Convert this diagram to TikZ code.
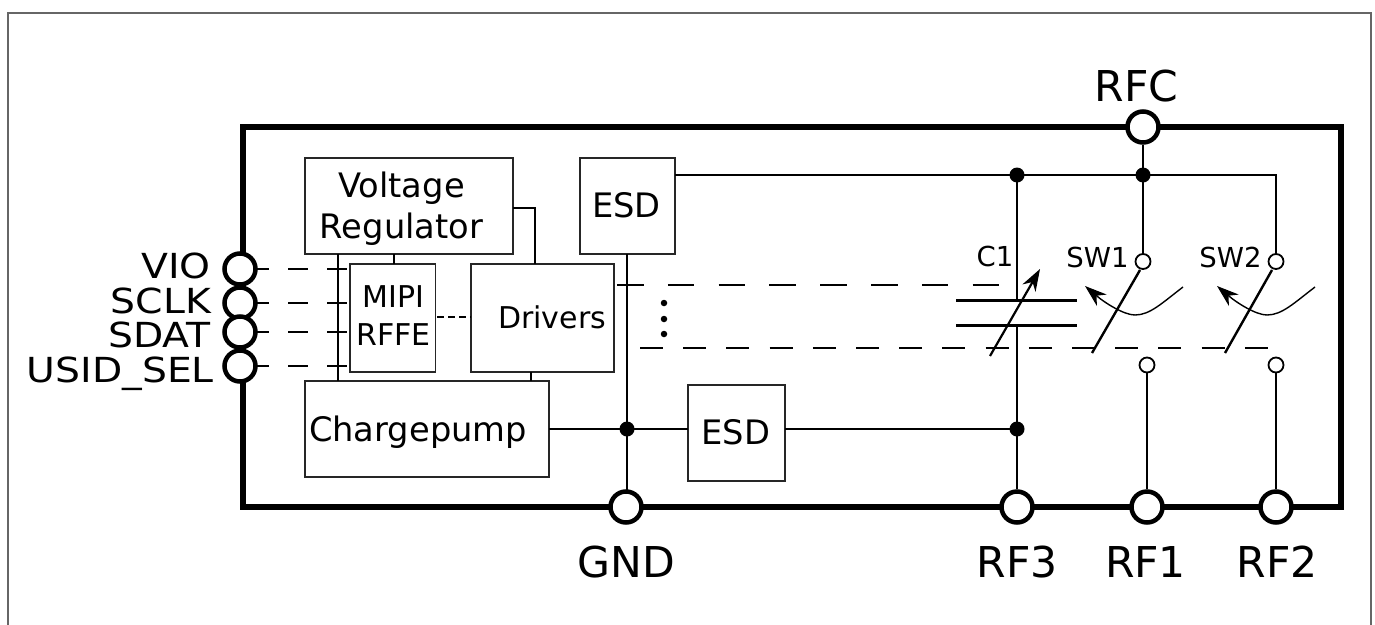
\documentclass[tikz,border=0pt]{standalone}
\usepackage{fontspec}
\setmainfont{DejaVu Sans}
\newfontfamily\widefont[FakeStretch=1.14]{DejaVu Sans}
\usetikzlibrary{arrows.meta}
\tikzset{
  blockbox/.style={draw=black!85,line width=1.4pt,fill=white,inner sep=0pt},
  wire/.style={line width=1.8pt,draw=black},
  thick wire/.style={line width=2.6pt,draw=black},
  pin/.style={circle,draw=black,line width=4.5pt,fill=white,minimum size=31pt,inner sep=0pt},
  tinypin/.style={circle,draw=black,line width=1.8pt,fill=white,minimum size=15pt,inner sep=0pt},
  junction/.style={circle,fill=black,minimum size=15pt,inner sep=0pt},
  dotty/.style={circle,fill=black,minimum size=6.5pt,inner sep=0pt},
  sidelabel/.style={font=\widefont\fontsize{34.5}{34.5}\selectfont,inner sep=0pt},
  biglabel/.style={font=\fontsize{42.5}{42.5}\selectfont,inner sep=0pt},
  midlabel/.style={font=\fontsize{33.7}{41}\selectfont,inner sep=0pt,align=center},
  smalllabel/.style={font=\fontsize{30}{38}\selectfont,inner sep=0pt,align=center},
  tinylabel/.style={font=\fontsize{27.5}{27.5}\selectfont,inner sep=0pt},
  ctrlA/.style={line width=1.8pt,dash pattern=on 20pt off 19pt,dash phase=8pt},
  ctrlB/.style={line width=2pt,dash pattern=on 26.6pt off 24.2pt},
  ctrlC/.style={line width=2pt,dash pattern=on 23pt off 20.2pt},
  head/.style={-{Stealth[length=22pt,width=15pt,inset=7pt]}},
}
\begin{document}
\begin{tikzpicture}[x=1pt,y=-1pt]
\useasboundingbox (0,0) rectangle (1375,624);
\draw[black!60,line width=2pt] (7.5,12.5) rectangle (1370.5,640);
% package outline
\draw[line width=6pt,line join=miter] (243,127) rectangle (1341,507);

% blocks
\node[blockbox,minimum width=208pt,minimum height=96pt] (vr) at (409,206) {};
\node[blockbox,minimum width=85.5pt,minimum height=108pt] (mipi) at (392.75,318) {};
\node[blockbox,minimum width=143pt,minimum height=108pt] (drv) at (542.5,318) {};
\node[blockbox,minimum width=244pt,minimum height=96pt] (cp) at (427,429) {};
\node[blockbox,minimum width=95pt,minimum height=96pt] (esda) at (627.5,206) {};
\node[blockbox,minimum width=97pt,minimum height=96pt] (esdb) at (736.5,433) {};

% pins
\node[pin] (rfc) at (1143,127) {};
\node[pin] (gnd) at (626,507) {};
\node[pin] (rfiii) at (1017,507) {};
\node[pin] (rfi) at (1147,507) {};
\node[pin] (rfii) at (1276,507) {};
\node[pin] (vio) at (240,269) {};
\node[pin] (sclk) at (240,303) {};
\node[pin] (sdat) at (240,332) {};
\node[pin] (usid) at (240,366) {};

% junctions and contacts
\coordinate (jg) at (627,429);
\coordinate (jb) at (1017,429);
\coordinate (jt) at (1017,175);
\coordinate (jr) at (1143,175);
\coordinate (cor) at (1276,175);
\node[tinypin] (swat) at (1143,261.5) {};
\node[tinypin] (swbt) at (1276,261.5) {};
\node[tinypin] (swab) at (1147,365) {};
\node[tinypin] (swbb) at (1276,365) {};

% power wiring
\draw[wire] (338,254) -- (338,381);
\draw[wire] (394,254) -- (394,264);
\draw[wire] (513,208) -- (535,208) -- (535,264);
\draw[wire] (531,372) -- (531,381);
\draw[wire] (627,254) -- (jg) -- (627,491);
\draw[thick wire] (549,429) -- (jg) -- (688,429);
\draw[thick wire] (785,429) -- (jb);
\draw[thick wire] (675,175) -- (jr) -- (cor) -- (swbt.north);
\draw[wire] (rfc.south) -- (jr) -- (swat.north);
\draw[wire] (jt) -- (1017,300);
\draw[wire] (1017,325) -- (jb) -- (rfiii.north);
\draw[thick wire] (swab.south) -- (rfi.north);
\draw[thick wire] (swbb.south) -- (rfii.north);
\node[junction] at (jg) {};
\node[junction] at (jb) {};
\node[junction] at (jt) {};
\node[junction] at (jr) {};

% control lines
\coordinate (a1) at (350,269);
\coordinate (a2) at (350,303);
\coordinate (a3) at (350,332);
\coordinate (a4) at (350,366);
\draw[ctrlA] (257,269) -- (a1);
\draw[ctrlA] (257,303) -- (a2);
\draw[ctrlA] (257,332) -- (a3);
\draw[ctrlA] (257,366) -- (a4);
\draw[line width=1.6pt,dash pattern=on 7pt off 4pt] (437,317) -- (471,317);
\coordinate (cta) at (617,285);
\coordinate (ctb) at (1000,285);
\coordinate (cba) at (640,348);
\coordinate (cbb) at (1268,348);
\draw[ctrlB] (cta) -- (ctb);
\draw[ctrlC] (cba) -- (cbb);
\node[dotty] at (664,303) {};
\node[dotty] at (664,319) {};
\node[dotty] at (664,334) {};

% capacitor
\draw[line width=3pt] (956,300) -- (1077,300);
\draw[line width=3pt] (956,325) -- (1077,325);
\draw[line width=2.2pt,head] (990,356) -- (1040,269);

% switches
\draw[line width=2.4pt] (1140,270) -- (1092,353);
\draw[line width=2.4pt] (1272,270) -- (1225,353);
\draw[line width=1.4pt,head] (1183,287) .. controls (1162,303) and (1150,315) .. (1135,315) .. controls (1124,315) and (1105,303) .. (1085,286);
\draw[line width=1.4pt,head] (1315,287) .. controls (1294,303) and (1282,315) .. (1267,315) .. controls (1256,315) and (1237,303) .. (1217,286);

% labels
\node[midlabel] (tvr) at (401.5,208.5) {Voltage\\Regulator};
\node[smalllabel] (tmipi) at (393.5,316) {MIPI\\RFFE};
\node[smalllabel,anchor=base] (tdrv) at (552,328) {Drivers};
\node[midlabel,anchor=base] (tcp) at (418,441) {Chargepump};
\node[midlabel,anchor=base] (tea) at (626.5,217) {ESD};
\node[midlabel,anchor=base] (teb) at (736,444) {ESD};
\node[sidelabel,anchor=base east] (lvio) at (211,278) {VIO};
\node[sidelabel,anchor=base east] (lsclk) at (211,313) {SCLK};
\node[sidelabel,anchor=base east] (lsdat) at (211,347) {SDAT};
\node[sidelabel,anchor=base east] (lusid) at (214,382) {USID\_SEL};
\node[biglabel,anchor=base] (lrfc) at (1136.5,101) {RFC};
\node[biglabel,anchor=base] (lgnd) at (626.5,577) {GND};
\node[biglabel,anchor=base] (lrfiii) at (1017,577) {RF3};
\node[biglabel,anchor=base] (lrfi) at (1145.5,577) {RF1};
\node[biglabel,anchor=base] (lrfii) at (1277,577) {RF2};
\node[tinylabel,anchor=base] (lc) at (995,266.5) {C1};
\node[tinylabel,anchor=base] (lsa) at (1097.5,267) {SW1};
\node[tinylabel,anchor=base] (lsb) at (1230.5,267) {SW2};
\end{tikzpicture}
\end{document}
